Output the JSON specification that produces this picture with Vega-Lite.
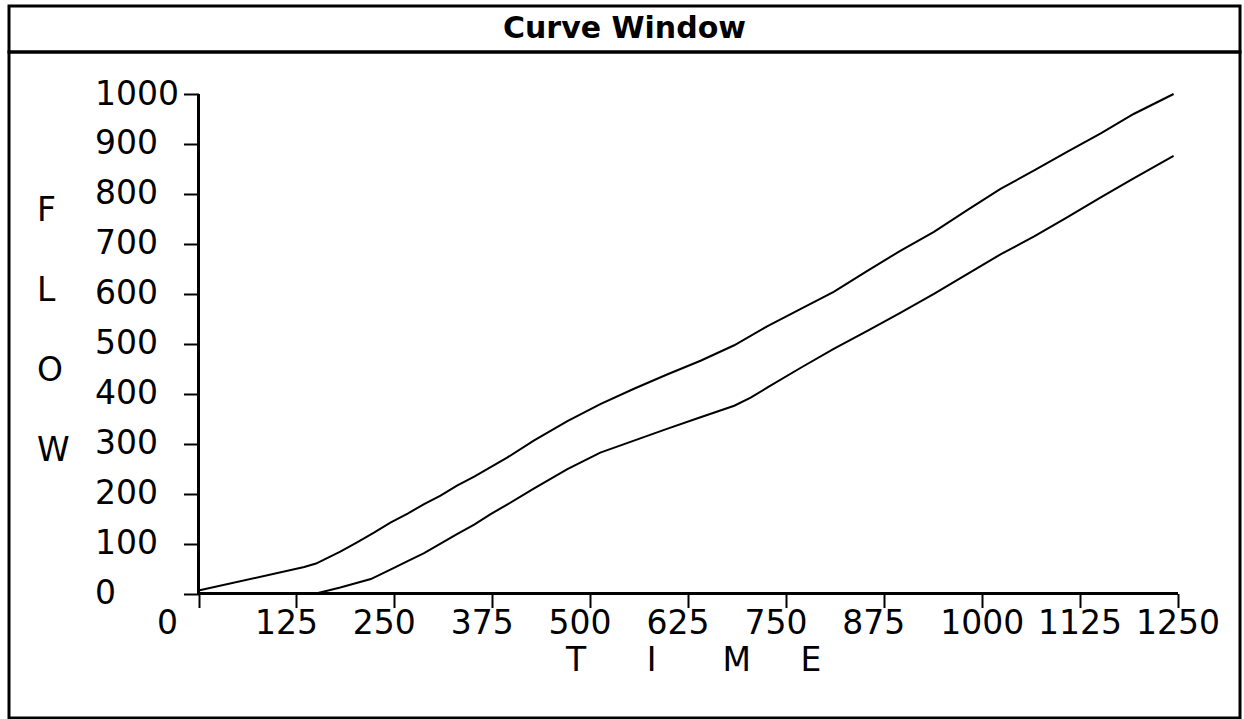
{
  "$schema": "https://vega.github.io/schema/vega-lite/v6.json",
  "background": "white",
  "padding": {"left": 7, "top": 4, "right": 2, "bottom": 0},
  "config": {
    "font": "DejaVu Sans",
    "view": {"stroke": "black", "strokeWidth": 3},
    "axis": {"grid": false}
  },
  "spacing": 0,
  "bounds": "flush",
  "vconcat": [
    {
      "width": 1231,
      "height": 46,
      "view": {"stroke": "black", "strokeWidth": 3, "fill": "white"},
      "data": {"values": [{"label": "Curve Window"}]},
      "mark": {"type": "text", "font": "DejaVu Sans", "fontWeight": "bold", "fontSize": 30, "color": "black"},
      "encoding": {"text": {"field": "label", "type": "nominal"}}
    },
    {
      "width": 1231,
      "height": 666,
      "data": {"values": [
        {"series": "upper", "time": 0, "flow": 6},
        {"series": "upper", "time": 135, "flow": 53},
        {"series": "upper", "time": 150, "flow": 60},
        {"series": "upper", "time": 181, "flow": 84},
        {"series": "upper", "time": 203, "flow": 103},
        {"series": "upper", "time": 224, "flow": 122},
        {"series": "upper", "time": 245, "flow": 142},
        {"series": "upper", "time": 267, "flow": 160},
        {"series": "upper", "time": 288, "flow": 179},
        {"series": "upper", "time": 309, "flow": 196},
        {"series": "upper", "time": 330, "flow": 216},
        {"series": "upper", "time": 352, "flow": 234},
        {"series": "upper", "time": 373, "flow": 253},
        {"series": "upper", "time": 394, "flow": 272},
        {"series": "upper", "time": 428, "flow": 306},
        {"series": "upper", "time": 471, "flow": 345},
        {"series": "upper", "time": 513, "flow": 379},
        {"series": "upper", "time": 556, "flow": 410},
        {"series": "upper", "time": 599, "flow": 439},
        {"series": "upper", "time": 641, "flow": 466},
        {"series": "upper", "time": 684, "flow": 497},
        {"series": "upper", "time": 726, "flow": 535},
        {"series": "upper", "time": 769, "flow": 570},
        {"series": "upper", "time": 811, "flow": 604},
        {"series": "upper", "time": 854, "flow": 646},
        {"series": "upper", "time": 896, "flow": 686},
        {"series": "upper", "time": 939, "flow": 724},
        {"series": "upper", "time": 982, "flow": 768},
        {"series": "upper", "time": 1024, "flow": 810},
        {"series": "upper", "time": 1067, "flow": 847},
        {"series": "upper", "time": 1109, "flow": 884},
        {"series": "upper", "time": 1152, "flow": 921},
        {"series": "upper", "time": 1194, "flow": 960},
        {"series": "upper", "time": 1245, "flow": 1000},
        {"series": "lower", "time": 150, "flow": 0},
        {"series": "lower", "time": 181, "flow": 12},
        {"series": "lower", "time": 220, "flow": 29},
        {"series": "lower", "time": 245, "flow": 48},
        {"series": "lower", "time": 267, "flow": 65},
        {"series": "lower", "time": 288, "flow": 81},
        {"series": "lower", "time": 309, "flow": 100},
        {"series": "lower", "time": 330, "flow": 119},
        {"series": "lower", "time": 352, "flow": 138},
        {"series": "lower", "time": 373, "flow": 159},
        {"series": "lower", "time": 394, "flow": 178},
        {"series": "lower", "time": 428, "flow": 210},
        {"series": "lower", "time": 471, "flow": 249},
        {"series": "lower", "time": 513, "flow": 282},
        {"series": "lower", "time": 556, "flow": 306},
        {"series": "lower", "time": 599, "flow": 330},
        {"series": "lower", "time": 641, "flow": 353},
        {"series": "lower", "time": 684, "flow": 376},
        {"series": "lower", "time": 705, "flow": 392},
        {"series": "lower", "time": 726, "flow": 412},
        {"series": "lower", "time": 769, "flow": 452},
        {"series": "lower", "time": 811, "flow": 490},
        {"series": "lower", "time": 854, "flow": 526},
        {"series": "lower", "time": 896, "flow": 562},
        {"series": "lower", "time": 939, "flow": 600},
        {"series": "lower", "time": 982, "flow": 640},
        {"series": "lower", "time": 1024, "flow": 679},
        {"series": "lower", "time": 1067, "flow": 715},
        {"series": "lower", "time": 1109, "flow": 753},
        {"series": "lower", "time": 1152, "flow": 793},
        {"series": "lower", "time": 1194, "flow": 831},
        {"series": "lower", "time": 1245, "flow": 876}
      ]},
      "layer": [
        {
          "mark": {"type": "line", "color": "black", "strokeWidth": 2},
          "encoding": {
            "x": {
              "field": "time", "type": "quantitative",
              "scale": {"domain": [-242, 1329.8], "nice": false, "zero": false},
              "axis": {
                "values": [0, 125, 250, 375, 500, 625, 750, 875, 1000, 1125, 1250],
                "format": "d",
                "domain": false,
                "offset": -124.5,
                "tickColor": "black", "tickWidth": 2, "tickSize": 14,
                "labelFont": "DejaVu Sans", "labelFontSize": 33, "labelColor": "black",
                "labelAlign": "left", "labelBaseline": "top", "labelOffset": -42, "labelPadding": 0,
                "labelOverlap": false, "labelFlush": false,
                "title": "T\u2003\u2007\u2009I\u2003\u2003M\u2003\u2002E",
                "titleFont": "DejaVu Sans", "titleFontSize": 33, "titleFontWeight": "normal", "titleColor": "black",
                "titleAlign": "left", "titleBaseline": "middle", "titleX": 556.5, "titleY": 67
              }
            },
            "y": {
              "field": "flow", "type": "quantitative",
              "scale": {"domain": [-249.2, 1084.1], "nice": false, "zero": false},
              "axis": {
                "values": [0, 100, 200, 300, 400, 500, 600, 700, 800, 900, 1000],
                "format": "d",
                "domain": false,
                "offset": -189.5,
                "tickColor": "black", "tickWidth": 2, "tickSize": 15,
                "labelFont": "DejaVu Sans", "labelFontSize": 33, "labelColor": "black",
                "labelAlign": "left", "labelBaseline": "middle", "labelPadding": 89,
                "labelOverlap": false, "labelFlush": false,
                "title": ["F", "L", "O", "W"],
                "titleFont": "DejaVu Sans", "titleFontSize": 33, "titleFontWeight": "normal", "titleColor": "black",
                "titleAngle": 0, "titleAlign": "left", "titleBaseline": "middle",
                "titleX": -162, "titleY": 158.5, "titleLineHeight": 80
              }
            },
            "detail": {"field": "series", "type": "nominal"}
          }
        },
        {
          "mark": {"type": "rule", "color": "black", "strokeWidth": 2},
          "encoding": {
            "x": {"datum": 0, "type": "quantitative", "scale": {"domain": [-242, 1329.8], "nice": false, "zero": false}},
            "x2": {"datum": 1250},
            "y": {"datum": 0, "type": "quantitative", "scale": {"domain": [-249.2, 1084.1], "nice": false, "zero": false}}
          }
        },
        {
          "mark": {"type": "rule", "color": "black", "strokeWidth": 2},
          "encoding": {
            "x": {"datum": 0, "type": "quantitative", "scale": {"domain": [-242, 1329.8], "nice": false, "zero": false}},
            "y": {"datum": 0, "type": "quantitative", "scale": {"domain": [-249.2, 1084.1], "nice": false, "zero": false}},
            "y2": {"datum": 1000}
          }
        }
      ]
    }
  ]
}
